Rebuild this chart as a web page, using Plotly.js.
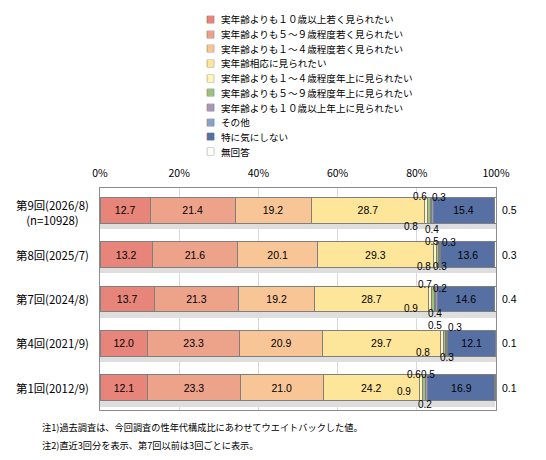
<!DOCTYPE html>
<html><head><meta charset="utf-8">
<script src="https://cdn.plot.ly/plotly-3.0.1.min.js"></script>
<style>html,body{margin:0;padding:0;background:#fff}</style>
</head><body><div id="chart" style="width:546px;height:460px"></div>
<script>
// ---- data ----
const categories = ['第9回(2026/8)', '第8回(2025/7)', '第7回(2024/8)', '第4回(2021/9)', '第1回(2012/9)'];
const categorySubLabels = ['(n=10928)', '', '', '', ''];
const seriesNames = [
  '実年齢よりも１０歳以上若く見られたい',
  '実年齢よりも５～９歳程度若く見られたい',
  '実年齢よりも１～４歳程度若く見られたい',
  '実年齢相応に見られたい',
  '実年齢よりも１～４歳程度年上に見られたい',
  '実年齢よりも５～９歳程度年上に見られたい',
  '実年齢よりも１０歳以上年上に見られたい',
  'その他',
  '特に気にしない',
  '無回答'
];
const young10 = [12.7, 13.2, 13.7, 12.0, 12.1];
const young5to9 = [21.4, 21.6, 21.3, 23.3, 23.3];
const young1to4 = [19.2, 20.1, 19.2, 20.9, 21.0];
const sameAge = [28.7, 29.3, 28.7, 29.7, 24.2];
const older1to4 = [0.8, 0.8, 0.9, 0.8, 0.9];
const older5to9 = [0.6, 0.5, 0.7, 0.5, 0.6];
const older10 = [0.3, 0.3, 0.2, 0.3, 0.5];
const other = [0.4, 0.3, 0.4, 0.3, 0.2];
const dontCare = [15.4, 13.6, 14.6, 12.1, 16.9];
const noAnswer = [0.5, 0.3, 0.4, 0.1, 0.1];
const xTickVals = [0, 20, 40, 60, 80, 100];
const xTickLabels = ['0%', '20%', '40%', '60%', '80%', '100%'];
const footnotes = [
  '注1)過去調査は、今回調査の性年代構成比にあわせてウエイトバックした値。',
  '注2)直近3回分を表示、第7回以前は3回ごとに表示。'
];

// ---- styling ----
const seriesValues = [young10, young5to9, young1to4, sameAge, older1to4, older5to9, older10, other, dontCare, noAnswer];
const colors = ['#E8857A', '#EDA28A', '#F8C597', '#FDE59A', '#FFF6B8', '#9DC27F', '#A897B6', '#8E9DC9', '#5670A3', '#FFFFFF'];
const insideLabelSeries = [0, 1, 2, 3, 8];
// pixel offsets (dx, dy down) for small-segment labels per row
const smallOffsets = {
  4: [[-15, 16.5], [-11, 12], [-19, 9.3], [-19, 9.3], [-17, 4]],
  5: [[-9, -13.5], [-6, -13], [-8, -15], [-9, -18], [-10, -13.8]],
  6: [[8, -13], [10, -12.6], [5, -10.7], [9, -16], [2, -13.8]],
  7: [[0, 19], [0, 12], [-1, 14.5], [0, 14], [-2, 16.5]]
};
const FONT = '"Noto Sans CJK JP", "Noto Sans", sans-serif';
const NUMFONT = '"Liberation Sans", Arial, sans-serif';
const W = 546, H = 460, L = 100, R = 50, T = 188, B = 50;
const PW = W - L - R, PH = H - T - B;
const px2x = p => (p - L) / PW;
const py2y = p => (H - B - p) / PH;

const totals = categories.map((c, r) => seriesValues.reduce((s, arr) => s + arr[r], 0));

const traces = [];
// shadow under bars
traces.push({
  type: 'bar', orientation: 'h', x: totals, y: categories, yaxis: 'y',
  marker: {color: '#dedede', line: {width: 0}}, hoverinfo: 'skip', showlegend: false
});
seriesValues.forEach((vals, i) => {
  const showText = insideLabelSeries.includes(i);
  traces.push({
    type: 'bar', orientation: 'h', name: seriesNames[i],
    x: vals, y: categories, yaxis: 'y2',
    marker: {color: colors[i], line: {color: '#7f7f7f', width: 1}},
    text: showText ? vals.map(v => v.toFixed(1)) : undefined,
    textposition: showText ? 'inside' : 'none',
    insidetextanchor: 'middle',
    textfont: {family: NUMFONT, size: 10.5, color: '#000'},
    hoverinfo: 'skip', showlegend: false
  });
});

const annotations = [];
categories.forEach((cat, r) => {
  let cum = 0;
  seriesValues.forEach((vals, i) => {
    const center = cum + vals[r] / 2;
    cum += vals[r];
    if (smallOffsets[i]) {
      const [dx, dy] = smallOffsets[i][r];
      annotations.push({
        xref: 'x', yref: 'y2', x: center, y: cat, text: vals[r].toFixed(1),
        showarrow: false, xanchor: 'center', yanchor: 'middle', xshift: dx, yshift: -dy,
        font: {family: NUMFONT, size: 10, color: '#000'}
      });
    }
  });
  // no-answer label to the right
  annotations.push({
    xref: 'x', yref: 'y2', x: 100, y: cat, text: noAnswer[r].toFixed(1),
    showarrow: false, xanchor: 'center', yanchor: 'middle', xshift: 13,
    font: {family: NUMFONT, size: 10.5, color: '#000'}
  });
  // category label
  const lbl = categorySubLabels[r] ? cat + '<br>' + categorySubLabels[r] : cat;
  annotations.push({
    xref: 'paper', yref: 'y2', x: px2x(52), y: cat, text: lbl, align: 'center',
    showarrow: false, xanchor: 'center', yanchor: 'middle', yshift: categorySubLabels[r] ? -2 : 0,
    font: {family: FONT, size: 11.4, color: '#000'}
  });
});
// manual legend built from the series names / colours
seriesNames.forEach((name, i) => {
  const cy = 19.3 + i * 14.7;
  annotations.push({
    xref: 'paper', yref: 'paper', x: px2x(210.5), y: py2y(cy), text: '■',
    showarrow: false, xanchor: 'center', yanchor: 'middle',
    font: {family: FONT, size: 9, color: colors[i]}
  });
  annotations.push({
    xref: 'paper', yref: 'paper', x: px2x(210.5), y: py2y(cy), text: '□',
    showarrow: false, xanchor: 'center', yanchor: 'middle',
    font: {family: FONT, size: 9, color: '#595959'}
  });
  annotations.push({
    xref: 'paper', yref: 'paper', x: px2x(219), y: py2y(cy), text: name,
    showarrow: false, xanchor: 'left', yanchor: 'middle',
    font: {family: FONT, size: 9.6, color: '#000'}
  });
});
// footnotes
footnotes.forEach((t, i) => {
  annotations.push({
    xref: 'paper', yref: 'paper', x: px2x(40), y: py2y(427 + i * 18), text: t,
    showarrow: false, xanchor: 'left', yanchor: 'middle',
    font: {family: FONT, size: 9.2, color: '#000'}
  });
});

const shadowShift = 0.13;
const layout = {
  width: W, height: H,
  margin: {l: L, r: R, t: T, b: B, pad: 0},
  paper_bgcolor: '#fff', plot_bgcolor: '#fff',
  barmode: 'stack', bargap: 0.415,
  showlegend: false,
  font: {family: FONT, color: '#000'},
  xaxis: {
    side: 'top', range: [0, 100], tickvals: xTickVals, ticktext: xTickLabels,
    showgrid: true, gridcolor: '#d9d9d9', gridwidth: 1, zeroline: false,
    showline: true, mirror: true, linecolor: '#8c8c8c', linewidth: 1,
    ticks: '', ticklabelstandoff: 6,
    tickfont: {family: FONT, size: 10.5, color: '#000'}, fixedrange: true
  },
  yaxis: {
    type: 'category', categoryarray: categories, categoryorder: 'array',
    range: [4.5 - shadowShift, -0.5 - shadowShift],
    showticklabels: false, showgrid: false, zeroline: false, showline: false, ticks: ''
  },
  yaxis2: {
    type: 'category', categoryarray: categories, categoryorder: 'array',
    overlaying: 'y', range: [4.5, -0.5],
    showticklabels: false, showgrid: false, zeroline: false,
    showline: true, mirror: true, linecolor: '#8c8c8c', linewidth: 1, ticks: ''
  },
  annotations: annotations
};

Plotly.newPlot('chart', traces, layout, {displayModeBar: false, staticPlot: true});
</script>
</body></html>
